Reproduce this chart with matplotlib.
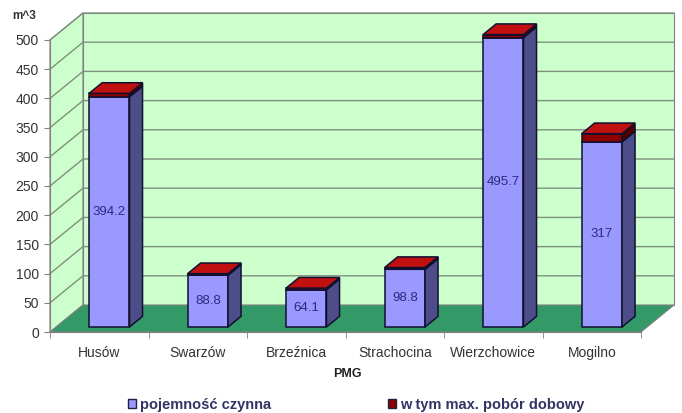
import numpy as np
import matplotlib.pyplot as plt
from matplotlib.patches import Polygon, Patch

plt.rcParams['font.family'] = ['Liberation Sans', 'DejaVu Sans']

stations = ['Husów', 'Swarzów', 'Brzeźnica', 'Strachocina', 'Wierzchowice', 'Mogilno']
capacity = [394.2, 88.8, 64.1, 98.8, 495.7, 317.0]
daily_max = [5.8, 2.5, 2.5, 3.0, 5.0, 14.0]
yticks = np.arange(0, 501, 50)
legend_labels = ['pojemność czynna', 'w tym max. pobór dobowy']

# oblique depth of the box, in data units (categories, m^3)
DX, DY = 0.335, 46.2
D0, D1 = 0.185, 0.58      # bar front / back as a fraction of the depth
BAR_W = 0.41
SHIFT = 0.04
YMAX = 500

WALL = '#ccffcc'
FLOOR = '#339966'
GRID = '#7f907f'
BLUE = ('#9999ff', '#4d4d8a', '#8080e0')
RED = ('#8c0000', '#4d0000', '#c01010')

fig = plt.figure(figsize=(6.82, 4.13), dpi=100)
ax = fig.add_axes([50 / 682, 81 / 413, 624 / 682, 319 / 413])
n = len(stations)
ax.set_xlim(-0.5, n - 0.5 + DX)
ax.set_ylim(0, YMAX + DY)
ax.patch.set_visible(False)


def face(pts, fc, ec='#808080', lw=0.8, z=1):
    ax.add_patch(Polygon(pts, closed=True, fc=fc, ec=ec, lw=lw, zorder=z, clip_on=False))


# walls and floor
x0, x1 = -0.5, n - 0.5
face([(x0 + DX, DY), (x1 + DX, DY), (x1 + DX, YMAX + DY), (x0 + DX, YMAX + DY)], WALL)
face([(x0, 0), (x0 + DX, DY), (x0 + DX, YMAX + DY), (x0, YMAX)], WALL)
for v in yticks[1:]:
    ax.plot([x0, x0 + DX, x1 + DX], [v, v + DY, v + DY], color=GRID, lw=1, zorder=1.5,
            clip_on=False)
face([(x0, 0), (x1, 0), (x1 + DX, DY), (x0 + DX, DY)], FLOOR, z=2)

# stacked 3d columns
ddx, ddy = (D1 - D0) * DX, (D1 - D0) * DY
base = D0 * DY


def block(xc, y0, y1, colors, z):
    xl, xr = xc - BAR_W / 2, xc + BAR_W / 2
    b0, b1 = base + y0, base + y1
    front, side, top = colors
    face([(xl, b0), (xr, b0), (xr, b1), (xl, b1)], front, ec='#101030', lw=1.1, z=z)
    face([(xr, b0), (xr + ddx, b0 + ddy), (xr + ddx, b1 + ddy), (xr, b1)], side,
         ec='#101030', lw=1.1, z=z)
    face([(xl, b1), (xr, b1), (xr + ddx, b1 + ddy), (xl + ddx, b1 + ddy)], top,
         ec='#101030', lw=1.1, z=z)


for i, (cap, dm) in enumerate(zip(capacity, daily_max)):
    xc = i + SHIFT + D0 * DX
    block(xc, 0, cap, BLUE, 3 + i * 0.01)
    block(xc, cap, cap + dm, RED, 3.005 + i * 0.01)
    label = f'{cap:g}'
    ax.text(xc, base + cap / 2, label, ha='center', va='center', fontsize=9.5,
            color='#2b2b80', zorder=5)

# axes
for s in ['top', 'right']:
    ax.spines[s].set_visible(False)
ax.spines['left'].set_bounds(0, YMAX)
ax.spines['bottom'].set_bounds(x0, x1)
ax.spines['left'].set_color('#808080')
ax.spines['bottom'].set_color('#808080')
ax.spines['left'].set_zorder(2.5)
ax.spines['bottom'].set_zorder(2.5)
ax.set_yticks(yticks)
ax.tick_params(axis='y', length=4, color='#808080', pad=4, labelsize=10, labelcolor='#333333')
ax.set_xticks(range(n))
ax.set_xticklabels(stations)
ax.tick_params(axis='x', length=0, pad=10, labelsize=10, labelcolor='#333333')
ax.set_xticks(np.arange(-0.5, n), minor=True)
ax.tick_params(axis='x', which='minor', length=4, color='#808080')

fig.text(347 / 682, 1 - 374 / 413, 'PMG', ha='center', va='center', fontsize=9,
         fontweight='bold', color='#222222')
fig.text(12 / 682, 1 - 16 / 413, 'm^3', ha='left', va='center', fontsize=8.5,
         fontweight='bold', color='#333333')

handles = [Patch(fc=BLUE[0], ec='#202040'), Patch(fc=RED[0], ec='#202040')]
fig.legend(handles, legend_labels, ncol=2, loc='center', bbox_to_anchor=(356 / 682, 1 - 405 / 413),
           frameon=False, handlelength=0.55, handleheight=0.6, handletextpad=0.3,
           columnspacing=8.0, prop={'size': 10.5, 'weight': 'bold'}, labelcolor='#333366')

fig.savefig('out.png', dpi=100)
